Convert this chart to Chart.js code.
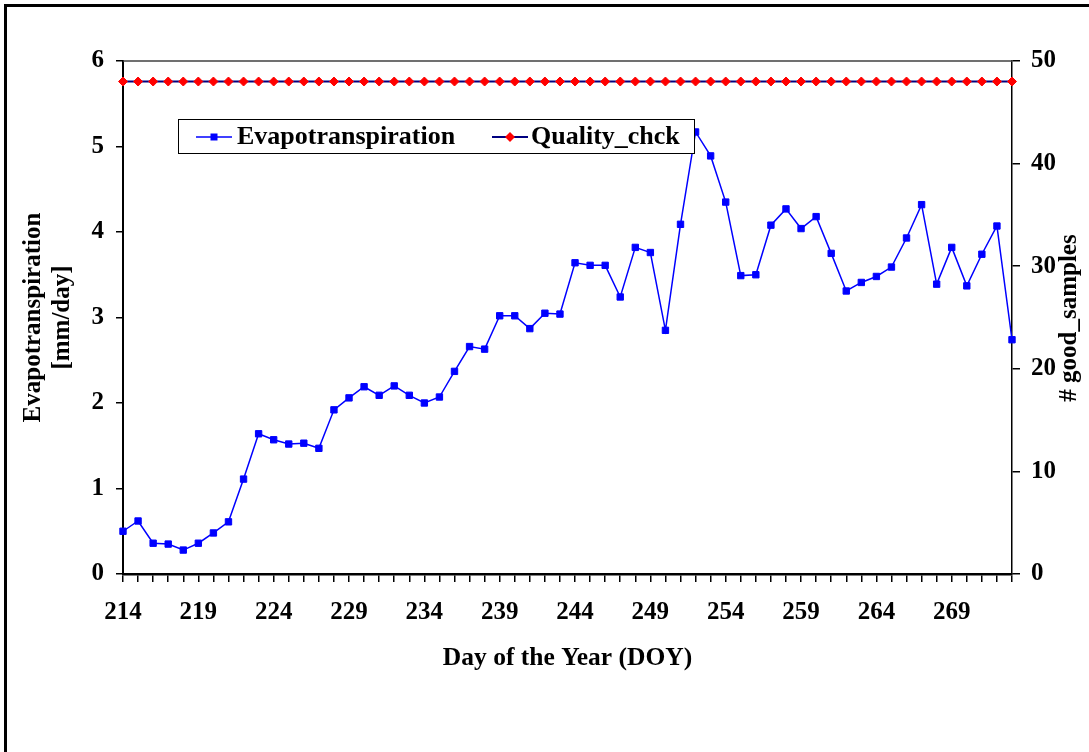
<!DOCTYPE html>
<html>
<head>
<meta charset="utf-8">
<script src="https://cdn.jsdelivr.net/npm/chart.js@4.4.0/dist/chart.umd.min.js"></script>
<style>
html, body { margin: 0; padding: 0; background: #fff; }
</style>
</head>
<body>
<canvas id="etChart" width="1089" height="752"></canvas>
<script>
// day of year
var days = [214, 215, 216, 217, 218, 219, 220, 221, 222, 223,
            224, 225, 226, 227, 228, 229, 230, 231, 232, 233,
            234, 235, 236, 237, 238, 239, 240, 241, 242, 243,
            244, 245, 246, 247, 248, 249, 250, 251, 252, 253,
            254, 255, 256, 257, 258, 259, 260, 261, 262, 263,
            264, 265, 266, 267, 268, 269, 270, 271, 272, 273];

// mm/day
var evapo = [0.50, 0.62, 0.36, 0.35, 0.28, 0.36, 0.48, 0.61, 1.11, 1.64,
             1.57, 1.52, 1.53, 1.47, 1.92, 2.06, 2.19, 2.09, 2.20, 2.09,
             2.00, 2.07, 2.37, 2.66, 2.63, 3.02, 3.02, 2.87, 3.05, 3.04,
             3.64, 3.61, 3.61, 3.24, 3.82, 3.76, 2.85, 4.09, 5.17, 4.89,
             4.35, 3.49, 3.50, 4.08, 4.27, 4.04, 4.18, 3.75, 3.31, 3.41,
             3.48, 3.59, 3.93, 4.32, 3.39, 3.82, 3.37, 3.74, 4.07, 2.74];

// # good samples
var quality = [48, 48, 48, 48, 48, 48, 48, 48, 48, 48,
               48, 48, 48, 48, 48, 48, 48, 48, 48, 48,
               48, 48, 48, 48, 48, 48, 48, 48, 48, 48,
               48, 48, 48, 48, 48, 48, 48, 48, 48, 48,
               48, 48, 48, 48, 48, 48, 48, 48, 48, 48,
               48, 48, 48, 48, 48, 48, 48, 48, 48, 48];

var labeledDays = [214, 219, 224, 229, 234, 239, 244, 249, 254, 259, 264, 269];
var rightTitle = '# good_samples';

var fontFam = '"Liberation Serif", "Times New Roman", serif';
var tickFont = { family: fontFam, size: 25, weight: 'bold' };

// outer frame + top edge of plot area + right axis title
var decor = {
    id: 'decor',
    afterDraw: function(chart) {
        var ctx = chart.ctx;
        var a = chart.chartArea;
        ctx.save();
        ctx.strokeStyle = '#000';
        ctx.lineWidth = 3;
        ctx.beginPath();
        ctx.moveTo(5.5, 752);
        ctx.lineTo(5.5, 5.5);
        ctx.lineTo(1089, 5.5);
        ctx.stroke();

        ctx.strokeStyle = '#404040';
        ctx.lineWidth = 1.5;
        ctx.beginPath();
        ctx.moveTo(a.left, a.top);
        ctx.lineTo(a.right, a.top);
        ctx.stroke();

        ctx.fillStyle = '#000';
        ctx.font = 'bold 25px ' + fontFam;
        ctx.textAlign = 'center';
        ctx.textBaseline = 'middle';
        ctx.translate(1070, 318);
        ctx.rotate(-Math.PI / 2);
        ctx.fillText(rightTitle, 0, 0);
        ctx.restore();
    }
};

// boxed legend inside the plot
var boxLegend = {
    id: 'boxLegend',
    afterDraw: function(chart) {
        var ctx = chart.ctx;
        var slots = [{ x: 196, tx: 237 }, { x: 492, tx: 531 }];
        var cy = 137;
        ctx.save();
        ctx.fillStyle = '#fff';
        ctx.fillRect(178.5, 119.5, 516, 34);
        ctx.strokeStyle = '#000';
        ctx.lineWidth = 1;
        ctx.strokeRect(178.5, 119.5, 516, 34);
        chart.data.datasets.forEach(function(ds, i) {
            var s = slots[i];
            ctx.strokeStyle = ds.borderColor;
            ctx.lineWidth = ds.borderWidth;
            ctx.beginPath();
            ctx.moveTo(s.x, cy);
            ctx.lineTo(s.x + 36, cy);
            ctx.stroke();
            var mx = s.x + 18;
            ctx.fillStyle = ds.pointBackgroundColor;
            ctx.beginPath();
            if (ds.pointStyle === 'rectRot') {
                ctx.moveTo(mx - 5, cy);
                ctx.lineTo(mx, cy - 5);
                ctx.lineTo(mx + 5, cy);
                ctx.lineTo(mx, cy + 5);
                ctx.closePath();
            } else {
                ctx.rect(mx - 3.5, cy - 3.5, 7, 7);
            }
            ctx.fill();
            ctx.fillStyle = '#000';
            ctx.font = 'bold 26px ' + fontFam;
            ctx.textAlign = 'left';
            ctx.textBaseline = 'middle';
            ctx.fillText(ds.label, s.tx, cy);
        });
        ctx.restore();
    }
};

var ctx = document.getElementById('etChart').getContext('2d');
var chart = new Chart(ctx, {
    type: 'line',
    data: {
        labels: days,
        datasets: [{
            label: 'Evapotranspiration',
            data: evapo,
            yAxisID: 'y',
            borderColor: '#0000FF',
            borderWidth: 1.5,
            pointStyle: 'rect',
            pointRadius: 4.5,
            pointBorderWidth: 1,
            pointBackgroundColor: '#0000FF',
            pointBorderColor: '#0000FF',
            tension: 0,
            clip: false
        }, {
            label: 'Quality_chck',
            data: quality,
            yAxisID: 'y1',
            borderColor: '#000080',
            borderWidth: 2,
            pointStyle: 'rectRot',
            pointRadius: 4.5,
            pointBorderWidth: 1,
            pointBackgroundColor: '#FF0000',
            pointBorderColor: '#FF0000',
            tension: 0,
            clip: false
        }]
    },
    options: {
        responsive: false,
        animation: false,
        layout: { padding: { top: 61, left: 0, right: 0, bottom: 0 } },
        plugins: {
            legend: { display: false },
            tooltip: { enabled: false }
        },
        scales: {
            x: {
                type: 'category',
                offset: false,
                afterFit: function(s) { s.height = 178; },
                grid: { drawOnChartArea: false, drawTicks: true, tickLength: 8, color: '#000', lineWidth: 1.5 },
                border: { color: '#000', width: 2.5 },
                ticks: {
                    autoSkip: false,
                    maxRotation: 0,
                    padding: 16,
                    color: '#000',
                    font: tickFont,
                    callback: function(v, i) {
                        var d = days[i];
                        return labeledDays.indexOf(d) >= 0 ? String(d) : '';
                    }
                },
                title: {
                    display: true,
                    text: 'Day of the Year (DOY)',
                    color: '#000',
                    font: { family: fontFam, size: 25.5, weight: 'bold' },
                    padding: { top: 0, bottom: 78 }
                }
            },
            y: {
                position: 'left',
                min: 0,
                max: 6,
                afterFit: function(s) { s.width = 123; },
                grid: { drawOnChartArea: false, drawTicks: true, tickLength: 7, color: '#000', lineWidth: 1.5 },
                border: { color: '#000', width: 2 },
                ticks: { stepSize: 1, padding: 12, color: '#000', font: tickFont },
                title: {
                    display: true,
                    text: ['Evapotranspiration', '[mm/day]'],
                    color: '#000',
                    font: { family: fontFam, size: 25, weight: 'bold', lineHeight: 1.16 },
                    padding: { top: 19.5, bottom: 0 }
                }
            },
            y1: {
                position: 'right',
                min: 0,
                max: 50,
                afterFit: function(s) { s.width = 77; },
                grid: { drawOnChartArea: false, drawTicks: true, tickLength: 8, color: '#000', lineWidth: 1.5 },
                border: { color: '#000', width: 1.5 },
                ticks: { stepSize: 10, padding: 11, color: '#000', font: tickFont }
            }
        }
    },
    plugins: [decor, boxLegend]
});
</script>
</body>
</html>
